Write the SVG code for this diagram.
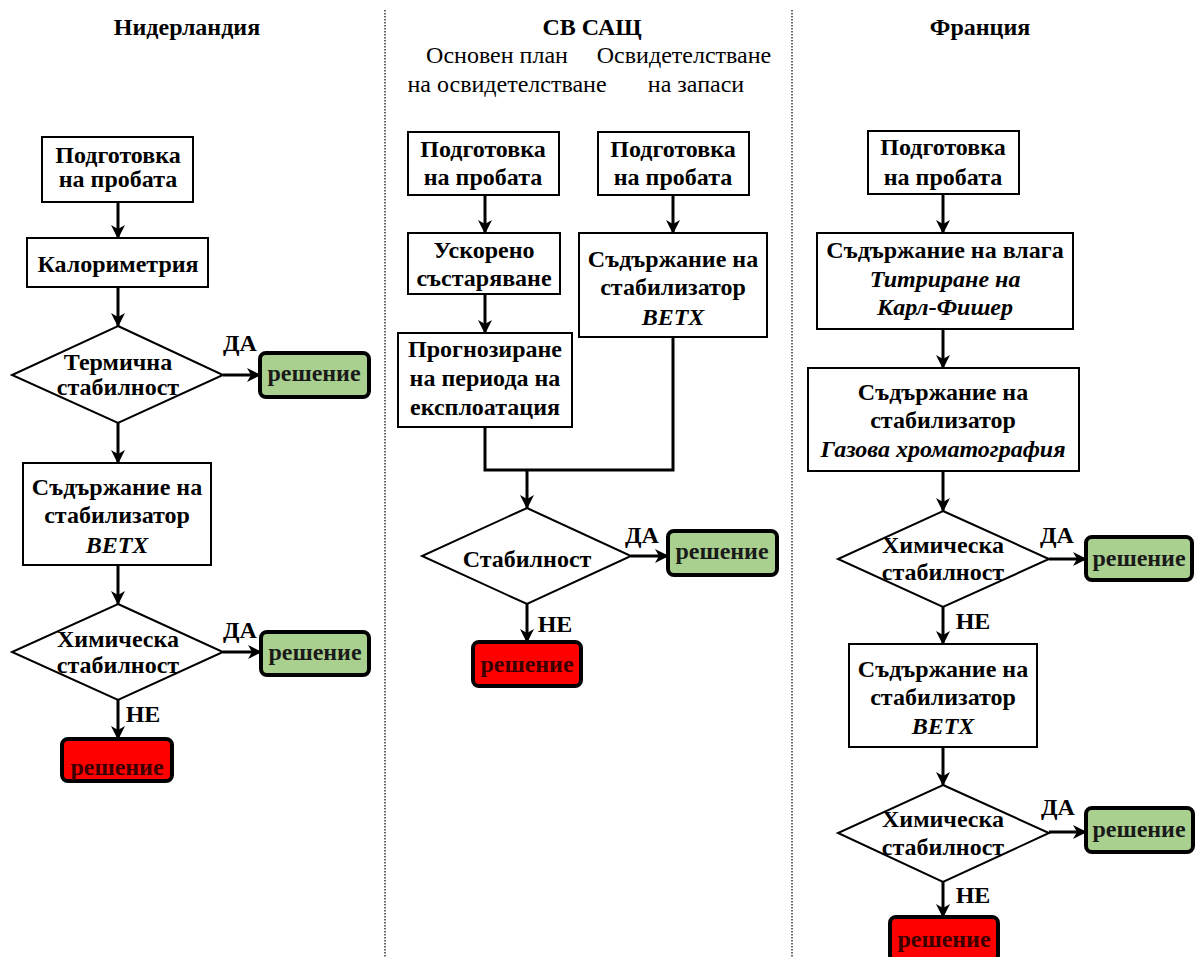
<svg xmlns="http://www.w3.org/2000/svg" width="1196" height="957" viewBox="0 0 1196 957">
<defs>
<marker id="arr" viewBox="0 0 14 14" refX="13" refY="7" markerWidth="14" markerHeight="14" markerUnits="userSpaceOnUse" orient="auto">
<path d="M0,0 L14,7 L0,14 L4,7 z" fill="#000"/>
</marker>
<style>
text{font-family:'Liberation Serif','DejaVu Serif','Times New Roman',serif;font-size:24px;font-weight:bold;fill:#000;text-anchor:middle}
.sub{font-weight:normal}
.it{font-style:italic}
.box{fill:#fff;stroke:#000;stroke-width:2}
.dia{fill:#fff;stroke:#000;stroke-width:2}
.yes{fill:#a9d08e;stroke:#000;stroke-width:4}
.no{fill:#ff0000;stroke:#000;stroke-width:4}
.rt{fill:#1a1a1a}
.nt{fill:#3a0000}
.c{fill:none;stroke:#000;stroke-width:3}
.sep{stroke:#333;stroke-width:1.5;stroke-dasharray:1.5 1.5}
</style>
</defs>
<rect width="1196" height="957" fill="#fff"/>
<g id="separators">
<line class="sep" x1="385" y1="10" x2="385" y2="957"/>
<line class="sep" x1="792" y1="10" x2="792" y2="957"/>
</g>
<g id="titles">
<text x="187" y="35">Нидерландия</text>
<text x="592" y="35">СВ САЩ</text>
<text class="sub" x="497" y="63">Основен план</text>
<text class="sub" x="684" y="63">Освидетелстване</text>
<text class="sub" x="507" y="92">на освидетелстване</text>
<text class="sub" x="696" y="92">на запаси</text>
<text x="980" y="35">Франция</text>
</g>
<g id="connectors">
<line class="c" x1="118" y1="202" x2="118" y2="238" marker-end="url(#arr)"/>
<line class="c" x1="118" y1="287" x2="118" y2="326" marker-end="url(#arr)"/>
<line class="c" x1="223" y1="375" x2="260" y2="375" marker-end="url(#arr)"/>
<line class="c" x1="118" y1="423" x2="118" y2="463" marker-end="url(#arr)"/>
<line class="c" x1="118" y1="565" x2="118" y2="604" marker-end="url(#arr)"/>
<line class="c" x1="223" y1="652" x2="261" y2="652" marker-end="url(#arr)"/>
<line class="c" x1="118" y1="700" x2="118" y2="739" marker-end="url(#arr)"/>
<line class="c" x1="485" y1="195" x2="485" y2="233" marker-end="url(#arr)"/>
<line class="c" x1="673" y1="195" x2="673" y2="233" marker-end="url(#arr)"/>
<line class="c" x1="485" y1="294" x2="485" y2="333" marker-end="url(#arr)"/>
<polyline class="c" points="485,427 485,470 673,470 673,337"/>
<line class="c" x1="527" y1="470" x2="527" y2="508" marker-end="url(#arr)"/>
<line class="c" x1="631" y1="556" x2="668" y2="556" marker-end="url(#arr)"/>
<line class="c" x1="527" y1="604" x2="527" y2="642" marker-end="url(#arr)"/>
<line class="c" x1="943" y1="194" x2="943" y2="233" marker-end="url(#arr)"/>
<line class="c" x1="943" y1="329" x2="943" y2="368" marker-end="url(#arr)"/>
<line class="c" x1="943" y1="471" x2="943" y2="511" marker-end="url(#arr)"/>
<line class="c" x1="1049" y1="559" x2="1086" y2="559" marker-end="url(#arr)"/>
<line class="c" x1="943" y1="607" x2="943" y2="644" marker-end="url(#arr)"/>
<line class="c" x1="943" y1="747" x2="943" y2="785" marker-end="url(#arr)"/>
<line class="c" x1="1049" y1="832" x2="1086" y2="832" marker-end="url(#arr)"/>
<line class="c" x1="943" y1="882" x2="943" y2="917" marker-end="url(#arr)"/>
<text x="240" y="351">ДА</text>
<text x="240" y="638">ДА</text>
<text x="143" y="722">НЕ</text>
<text x="642" y="543">ДА</text>
<text x="555" y="632">НЕ</text>
<text x="1057" y="543">ДА</text>
<text x="973" y="629">НЕ</text>
<text x="1058" y="815">ДА</text>
<text x="973" y="903">НЕ</text>
</g>
<g id="nl-prep">
<rect class="box" x="42" y="137" width="151" height="65"/>
<text x="118" y="163">Подготовка</text>
<text x="118" y="187">на пробата</text>
</g>
<g id="nl-cal">
<rect class="box" x="27" y="238" width="181" height="49"/>
<text x="118" y="272">Калориметрия</text>
</g>
<g id="nl-therm">
<polygon class="dia" points="118,326 223,375 118,423 12,375"/>
<text x="118" y="370">Термична</text>
<text x="118" y="395">стабилност</text>
</g>
<g id="nl-yes1">
<rect class="yes" x="260" y="353" width="109" height="44" rx="6"/>
<text class="rt" x="314" y="381">решение</text>
</g>
<g id="nl-stab">
<rect class="box" x="23" y="463" width="188" height="102"/>
<text x="117" y="495">Съдържание на</text>
<text x="117" y="523">стабилизатор</text>
<text class="it" x="117" y="553">BETX</text>
</g>
<g id="nl-chem">
<polygon class="dia" points="118,604 223,652 118,700 12,652"/>
<text x="118" y="647">Химическа</text>
<text x="118" y="673">стабилност</text>
</g>
<g id="nl-yes2">
<rect class="yes" x="261" y="632" width="108" height="43" rx="6"/>
<text class="rt" x="315" y="660">решение</text>
</g>
<g id="nl-no">
<rect class="no" x="62" y="739" width="110" height="42" rx="6"/>
<text class="nt" x="117" y="775">решение</text>
</g>
<g id="us-prep1">
<rect class="box" x="408" y="132" width="151" height="63"/>
<text x="483" y="157">Подготовка</text>
<text x="483" y="185">на пробата</text>
</g>
<g id="us-prep2">
<rect class="box" x="598" y="132" width="151" height="63"/>
<text x="673" y="157">Подготовка</text>
<text x="673" y="185">на пробата</text>
</g>
<g id="us-aging">
<rect class="box" x="408" y="233" width="152" height="61"/>
<text x="484" y="258">Ускорено</text>
<text x="484" y="286">състаряване</text>
</g>
<g id="us-stab">
<rect class="box" x="579" y="233" width="188" height="104"/>
<text x="673" y="267">Съдържание на</text>
<text x="673" y="295">стабилизатор</text>
<text class="it" x="673" y="325">BETX</text>
</g>
<g id="us-life">
<rect class="box" x="398" y="333" width="174" height="94"/>
<text x="485" y="357">Прогнозиране</text>
<text x="485" y="386">на периода на</text>
<text x="485" y="415">експлоатация</text>
</g>
<g id="us-dec">
<polygon class="dia" points="527,508 631,556 527,604 422,556"/>
<text x="527" y="567">Стабилност</text>
</g>
<g id="us-yes">
<rect class="yes" x="668" y="531" width="109" height="44" rx="6"/>
<text class="rt" x="722" y="559">решение</text>
</g>
<g id="us-no">
<rect class="no" x="473" y="642" width="108" height="44" rx="6"/>
<text class="nt" x="527" y="672">решение</text>
</g>
<g id="fr-prep">
<rect class="box" x="868" y="131" width="151" height="63"/>
<text x="943" y="155">Подготовка</text>
<text x="943" y="185">на пробата</text>
</g>
<g id="fr-moist">
<rect class="box" x="817" y="233" width="256" height="96"/>
<text x="945" y="258">Съдържание на влага</text>
<text class="it" x="945" y="287">Титриране на</text>
<text class="it" x="945" y="315">Карл-Фишер</text>
</g>
<g id="fr-gc">
<rect class="box" x="808" y="368" width="271" height="103"/>
<text x="943" y="400">Съдържание на</text>
<text x="943" y="428">стабилизатор</text>
<text class="it" x="943" y="457">Газова хроматография</text>
</g>
<g id="fr-chem1">
<polygon class="dia" points="943,511 1049,559 943,607 838,559"/>
<text x="943" y="553">Химическа</text>
<text x="943" y="580">стабилност</text>
</g>
<g id="fr-yes1">
<rect class="yes" x="1086" y="537" width="106" height="43" rx="6"/>
<text class="rt" x="1139" y="566">решение</text>
</g>
<g id="fr-stab">
<rect class="box" x="849" y="644" width="188" height="103"/>
<text x="943" y="677">Съдържание на</text>
<text x="943" y="705">стабилизатор</text>
<text class="it" x="943" y="734">BETX</text>
</g>
<g id="fr-chem2">
<polygon class="dia" points="943,785 1049,833 943,882 838,833"/>
<text x="943" y="827">Химическа</text>
<text x="943" y="855">стабилност</text>
</g>
<g id="fr-yes2">
<rect class="yes" x="1086" y="808" width="107" height="44" rx="6"/>
<text class="rt" x="1139" y="837">решение</text>
</g>
<g id="fr-no">
<rect class="no" x="890" y="917" width="108" height="44" rx="6"/>
<text class="nt" x="944" y="947">решение</text>
</g>
</svg>
